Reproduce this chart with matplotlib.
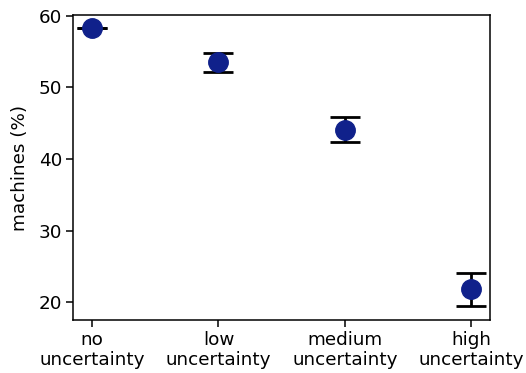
import matplotlib
matplotlib.use('Agg')
import matplotlib.pyplot as plt
import numpy as np

# data
categories = ['no\nuncertainty', 'low\nuncertainty', 'medium\nuncertainty', 'high\nuncertainty']
means = [58.3, 53.5, 44.1, 21.8]
err_low = [0.0, 1.3, 1.8, 2.3]
err_high = [0.0, 1.3, 1.8, 2.3]

fig = plt.figure(figsize=(5.26, 3.73), dpi=100)
ax = fig.add_axes([0.139, 0.142, 0.793, 0.818])

x = np.arange(len(categories))
ax.errorbar(x, means, yerr=[err_low, err_high], fmt='o', color='#10218b',
            markersize=14, ecolor='black', elinewidth=2, capsize=11, capthick=2)

ax.set_xticks(x)
ax.set_xticklabels(categories, fontsize=13.2, linespacing=1.1)
ax.set_yticks([20, 30, 40, 50, 60])
ax.tick_params(axis='y', labelsize=13.2)
ax.tick_params(length=5, width=1.1, pad=3)
ax.set_ylabel('machines (%)', fontsize=13.2, labelpad=7)
for s in ax.spines.values():
    s.set_linewidth(1.1)
ax.set_ylim(17.5, 60.1)
ax.set_xlim(-0.15, 3.15)

plt.savefig('out.png', dpi=100)
